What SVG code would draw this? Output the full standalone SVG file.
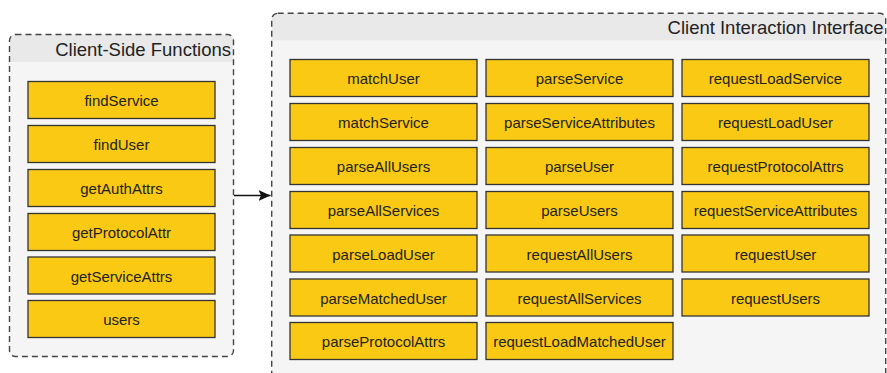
<svg xmlns="http://www.w3.org/2000/svg" width="887" height="373" viewBox="0 0 887 373">
  <style>
    .frame { fill: #f5f5f5; stroke: #444; stroke-width: 1.4; stroke-dasharray: 6 4; }
    .band { fill: #e9e9e9; }
    .title { font-family: "Liberation Sans", Arial, sans-serif; font-size: 18.5px; fill: #222; text-anchor: end; }
    .fn rect { fill: #f9c914; stroke: #333; stroke-width: 1.3; }
    .fn text { font-family: "Liberation Sans", Arial, sans-serif; font-size: 15px; fill: #222; text-anchor: middle; dominant-baseline: central; }
    .edge { stroke: #111; stroke-width: 1.3; fill: none; }
  </style>
  <defs>
    <marker id="head" viewBox="0 0 12 11" refX="12" refY="5.5" markerWidth="12" markerHeight="11" markerUnits="userSpaceOnUse" orient="auto">
      <path d="M0,0 L12,5.5 L0,11 L2.5,5.5 z" fill="#111"/>
    </marker>
    <clipPath id="clipL"><rect x="9.5" y="34.5" width="224" height="322" rx="6"/></clipPath>
    <clipPath id="clipR"><rect x="271.7" y="13.3" width="614" height="380" rx="6"/></clipPath>
  </defs>

  <!-- Client-side container -->
  <g id="client-side-functions">
    <rect class="frame" x="9.5" y="34.5" width="224" height="322" rx="6" style="stroke:none"/>
    <rect class="band" x="9.5" y="34.5" width="224" height="27.5" clip-path="url(#clipL)"/>
    <rect class="frame" x="9.5" y="34.5" width="224" height="322" rx="6" style="fill:none"/>
    <text class="title" x="231" y="55.5">Client-Side Functions</text>
  </g>

  <!-- Interaction interface container -->
  <g id="client-interaction-interface">
    <rect class="frame" x="271.7" y="13.3" width="614" height="380" rx="6" style="stroke:none"/>
    <rect class="band" x="271.7" y="13.3" width="614" height="27" clip-path="url(#clipR)"/>
    <rect class="frame" x="271.7" y="13.3" width="614" height="380" rx="6" style="fill:none"/>
    <text class="title" x="883.5" y="34">Client Interaction Interface</text>
  </g>

  <!-- Left column functions -->
  <g id="findService" class="fn"><rect x="28" y="81.5" width="187" height="37"/><text x="121.5" y="100.5">findService</text></g>
  <g id="findUser" class="fn"><rect x="28" y="125.5" width="187" height="37"/><text x="121.5" y="144.5">findUser</text></g>
  <g id="getAuthAttrs" class="fn"><rect x="28" y="169.5" width="187" height="37"/><text x="121.5" y="188.5">getAuthAttrs</text></g>
  <g id="getProtocolAttr" class="fn"><rect x="28" y="213.5" width="187" height="37"/><text x="121.5" y="232.5">getProtocolAttr</text></g>
  <g id="getServiceAttrs" class="fn"><rect x="28" y="257" width="187" height="37"/><text x="121.5" y="276">getServiceAttrs</text></g>
  <g id="users" class="fn"><rect x="28" y="300.5" width="187" height="37"/><text x="121.5" y="319.5">users</text></g>

  <!-- Interface column 1 -->
  <g id="matchUser" class="fn"><rect x="290" y="59.5" width="187" height="37"/><text x="383.5" y="78.5">matchUser</text></g>
  <g id="matchService" class="fn"><rect x="290" y="103.5" width="187" height="37"/><text x="383.5" y="122.5">matchService</text></g>
  <g id="parseAllUsers" class="fn"><rect x="290" y="147.5" width="187" height="37"/><text x="383.5" y="166.5">parseAllUsers</text></g>
  <g id="parseAllServices" class="fn"><rect x="290" y="191.5" width="187" height="37"/><text x="383.5" y="210.5">parseAllServices</text></g>
  <g id="parseLoadUser" class="fn"><rect x="290" y="235" width="187" height="37"/><text x="383.5" y="254">parseLoadUser</text></g>
  <g id="parseMatchedUser" class="fn"><rect x="290" y="279" width="187" height="37"/><text x="383.5" y="298">parseMatchedUser</text></g>
  <g id="parseProtocolAttrs" class="fn"><rect x="290" y="322.5" width="187" height="37"/><text x="383.5" y="341.5">parseProtocolAttrs</text></g>

  <!-- Interface column 2 -->
  <g id="parseService" class="fn"><rect x="486" y="59.5" width="187" height="37"/><text x="579.5" y="78.5">parseService</text></g>
  <g id="parseServiceAttributes" class="fn"><rect x="486" y="103.5" width="187" height="37"/><text x="579.5" y="122.5">parseServiceAttributes</text></g>
  <g id="parseUser" class="fn"><rect x="486" y="147.5" width="187" height="37"/><text x="579.5" y="166.5">parseUser</text></g>
  <g id="parseUsers" class="fn"><rect x="486" y="191.5" width="187" height="37"/><text x="579.5" y="210.5">parseUsers</text></g>
  <g id="requestAllUsers" class="fn"><rect x="486" y="235" width="187" height="37"/><text x="579.5" y="254">requestAllUsers</text></g>
  <g id="requestAllServices" class="fn"><rect x="486" y="279" width="187" height="37"/><text x="579.5" y="298">requestAllServices</text></g>
  <g id="requestLoadMatchedUser" class="fn"><rect x="486" y="322.5" width="187" height="37"/><text x="579.5" y="341.5">requestLoadMatchedUser</text></g>

  <!-- Interface column 3 -->
  <g id="requestLoadService" class="fn"><rect x="682" y="59.5" width="187" height="37"/><text x="775.5" y="78.5">requestLoadService</text></g>
  <g id="requestLoadUser" class="fn"><rect x="682" y="103.5" width="187" height="37"/><text x="775.5" y="122.5">requestLoadUser</text></g>
  <g id="requestProtocolAttrs" class="fn"><rect x="682" y="147.5" width="187" height="37"/><text x="775.5" y="166.5">requestProtocolAttrs</text></g>
  <g id="requestServiceAttributes" class="fn"><rect x="682" y="191.5" width="187" height="37"/><text x="775.5" y="210.5">requestServiceAttributes</text></g>
  <g id="requestUser" class="fn"><rect x="682" y="235" width="187" height="37"/><text x="775.5" y="254">requestUser</text></g>
  <g id="requestUsers" class="fn"><rect x="682" y="279" width="187" height="37"/><text x="775.5" y="298">requestUsers</text></g>

  <!-- Connectors -->
  <g id="connectors">
    <line class="edge" x1="234" y1="195.5" x2="270.5" y2="195.5" marker-end="url(#head)"/>
  </g>
</svg>
